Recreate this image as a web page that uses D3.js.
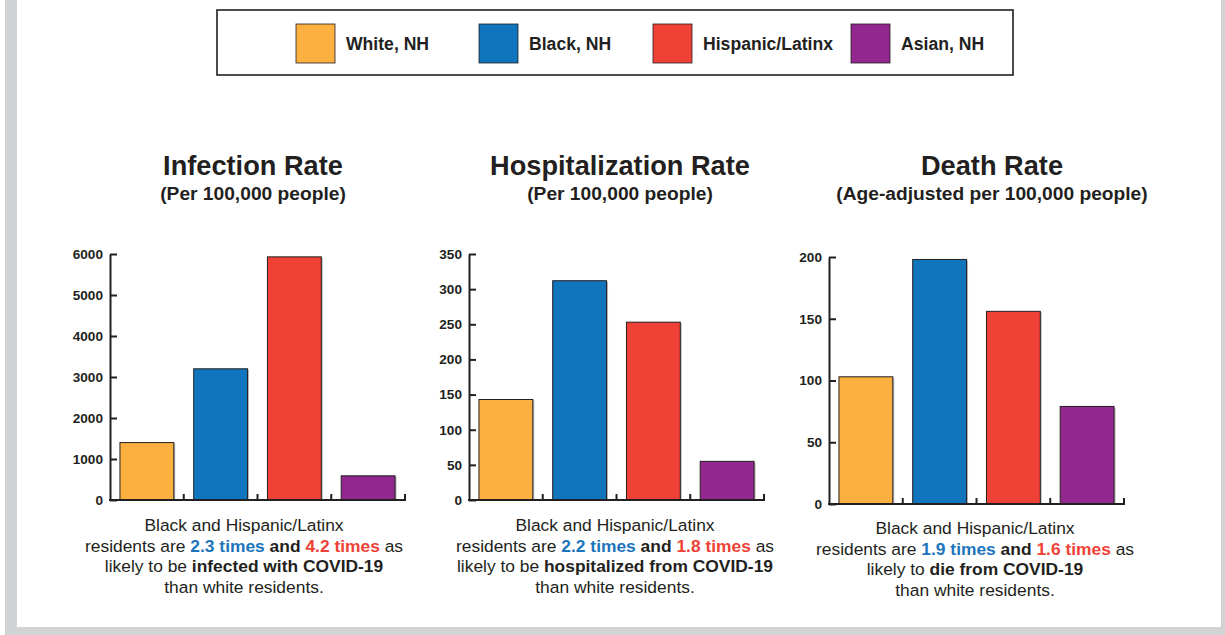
<!DOCTYPE html>
<html>
<head>
<meta charset="utf-8">
<script src="https://cdn.jsdelivr.net/npm/d3@7"></script>
<style>
  html, body { margin: 0; padding: 0; background: #ffffff; }
  svg { display: block; }
  text { font-family: "Liberation Sans", Arial, Helvetica, sans-serif; }
</style>
</head>
<body>
<svg id="chart" width="1225" height="635"></svg>
<script>
// ---------------- DATA ----------------
const categories = ["White, NH", "Black, NH", "Hispanic/Latinx", "Asian, NH"];
const seriesColors = ["#fbb040", "#1075bc", "#ef4136", "#92278f"];

const infectionValues = [1400, 3200, 5930, 590];
const hospitalizationValues = [143, 312, 253, 55];
const deathValues = [103, 198, 156, 79];

const infectionTicks = [0, 1000, 2000, 3000, 4000, 5000, 6000];
const hospitalizationTicks = [0, 50, 100, 150, 200, 250, 300, 350];
const deathTicks = [0, 50, 100, 150, 200];

const panelTitles = ["Infection Rate", "Hospitalization Rate", "Death Rate"];
const panelSubtitles = ["(Per 100,000 people)", "(Per 100,000 people)", "(Age-adjusted per 100,000 people)"];

// caption segments: [text, style] ; n = normal, k = bold dark, b = bold blue, r = bold red
const infectionCaption = [
  [["Black and Hispanic/Latinx", "n"]],
  [["residents are ", "n"], ["2.3 times", "b"], [" and ", "k"], ["4.2 times", "r"], [" as", "n"]],
  [["likely to be ", "n"], ["infected with COVID-19", "k"]],
  [["than white residents.", "n"]]
];
const hospitalizationCaption = [
  [["Black and Hispanic/Latinx", "n"]],
  [["residents are ", "n"], ["2.2 times", "b"], [" and ", "k"], ["1.8 times", "r"], [" as", "n"]],
  [["likely to be ", "n"], ["hospitalized from COVID-19", "k"]],
  [["than white residents.", "n"]]
];
const deathCaption = [
  [["Black and Hispanic/Latinx", "n"]],
  [["residents are ", "n"], ["1.9 times", "b"], [" and ", "k"], ["1.6 times", "r"], [" as", "n"]],
  [["likely to ", "n"], ["die from COVID-19", "k"]],
  [["than white residents.", "n"]]
];

// ---------------- LAYOUT ----------------
const ink = "#231f20";
const svg = d3.select("#chart");

// frame
svg.append("rect").attr("x", 5).attr("y", 0).attr("width", 1220).attr("height", 635).attr("fill", "#d1d3d4");
svg.append("rect").attr("x", 17).attr("y", 0).attr("width", 1204).attr("height", 627).attr("fill", "#ffffff");

// legend
svg.append("rect").attr("x", 217).attr("y", 10).attr("width", 796).attr("height", 65)
  .attr("fill", "#fff").attr("stroke", ink).attr("stroke-width", 1.6);
const legendSwatchX = [296, 479, 653, 851];
const legend = svg.append("g");
categories.forEach((c, i) => {
  legend.append("rect").attr("x", legendSwatchX[i]).attr("y", 24).attr("width", 39).attr("height", 39)
    .attr("fill", seriesColors[i]).attr("stroke", ink).attr("stroke-width", 0.8);
  legend.append("text").attr("x", legendSwatchX[i] + 50).attr("y", 50)
    .attr("font-size", 17.6).attr("font-weight", "bold").attr("fill", ink).text(c);
});

const panels = [
  { values: infectionValues, ticks: infectionTicks, caption: infectionCaption,
    x0: 110, x1: 405, yTop: 254, yBot: 500, titleX: 253, capX: 244, capY: 531 },
  { values: hospitalizationValues, ticks: hospitalizationTicks, caption: hospitalizationCaption,
    x0: 469, x1: 764, yTop: 254, yBot: 500, titleX: 620, capX: 615, capY: 531 },
  { values: deathValues, ticks: deathTicks, caption: deathCaption,
    x0: 829, x1: 1124, yTop: 257, yBot: 504, titleX: 992, capX: 975, capY: 534 }
];

const styleFill = { n: ink, k: ink, b: "#1c75bc", r: "#ef4136" };

panels.forEach((p, pi) => {
  const g = svg.append("g");

  // titles
  g.append("text").attr("x", p.titleX).attr("y", 175).attr("text-anchor", "middle")
    .attr("font-size", 27.2).attr("font-weight", "bold").attr("fill", ink).text(panelTitles[pi]);
  g.append("text").attr("x", p.titleX).attr("y", 200).attr("text-anchor", "middle")
    .attr("font-size", 19.2).attr("font-weight", "bold").attr("fill", ink).text(panelSubtitles[pi]);

  const x = d3.scaleBand().domain(categories).range([p.x0, p.x1]).paddingInner(0.27).paddingOuter(0.135);
  const y = d3.scaleLinear().domain([0, d3.max(p.ticks)]).range([p.yBot, p.yTop]);

  // bar shadows
  g.selectAll("rect.shadow").data(p.values).enter().append("rect")
    .attr("x", (d, i) => x(categories[i]) + 1.5)
    .attr("y", d => y(d) + 1)
    .attr("width", x.bandwidth())
    .attr("height", d => p.yBot - y(d) - 1)
    .attr("fill", "#bcbec0");

  // bars
  g.selectAll("rect.bar").data(p.values).enter().append("rect")
    .attr("x", (d, i) => x(categories[i]))
    .attr("y", d => y(d))
    .attr("width", x.bandwidth())
    .attr("height", d => p.yBot - y(d))
    .attr("fill", (d, i) => seriesColors[i])
    .attr("stroke", ink).attr("stroke-width", 1);

  // y axis
  const yAxis = d3.axisLeft(y).tickValues(p.ticks).tickSizeInner(-7).tickSizeOuter(0).tickPadding(7)
    .tickFormat(d3.format("d"));
  const ya = g.append("g").attr("transform", `translate(${p.x0},0)`).call(yAxis);
  ya.select(".domain").attr("stroke", ink).attr("stroke-width", 2);
  ya.selectAll(".tick line").attr("stroke", ink).attr("stroke-width", 2);
  ya.selectAll(".tick text").attr("fill", ink).attr("font-size", 13.6).attr("font-weight", "bold")
    .attr("font-family", "'Liberation Sans', Arial, sans-serif");

  // x axis baseline with upward ticks at band boundaries
  g.append("line").attr("x1", p.x0 - 1).attr("x2", p.x1 + 1).attr("y1", p.yBot).attr("y2", p.yBot)
    .attr("stroke", ink).attr("stroke-width", 2);
  const boundaries = categories.map((c, i) => p.x0 + x.step() * (i + 1));
  g.selectAll("line.xt").data(boundaries).enter().append("line")
    .attr("x1", d => d).attr("x2", d => d)
    .attr("y1", p.yBot).attr("y2", p.yBot - 6)
    .attr("stroke", ink).attr("stroke-width", 2);

  // caption
  p.caption.forEach((line, li) => {
    const t = g.append("text").attr("x", p.capX).attr("y", p.capY + li * 20.6)
      .attr("text-anchor", "middle").attr("font-size", 17.4).attr("fill", ink);
    line.forEach(([txt, st]) => {
      t.append("tspan").text(txt)
        .attr("fill", styleFill[st])
        .attr("font-weight", st === "n" ? "normal" : "bold")
        .style("white-space", "pre");
    });
  });
});
</script>
</body>
</html>
